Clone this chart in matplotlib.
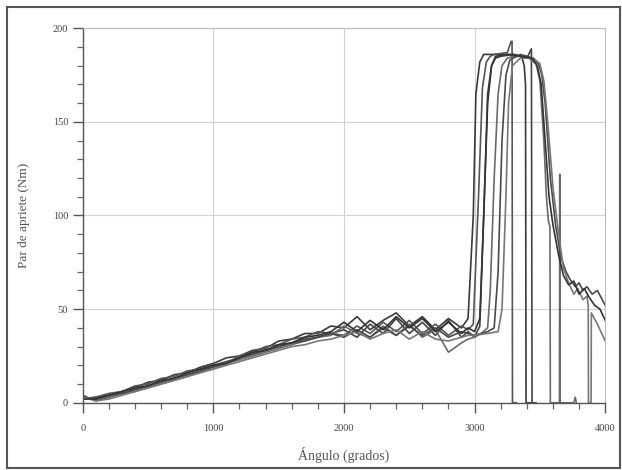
import matplotlib
matplotlib.use("Agg")
import matplotlib.pyplot as plt
from matplotlib.patches import Rectangle
from matplotlib.ticker import MultipleLocator

plt.rcParams['font.family'] = ['Liberation Serif', 'DejaVu Serif']

ramp_angles = [0, 100, 200, 300, 400, 500, 600, 700, 800, 900, 1000, 1100, 1200, 1300, 1400,
               1500, 1600, 1700, 1800, 1900, 2000, 2100, 2200, 2300, 2400, 2500, 2600, 2700, 2800, 2900]

c1_ramp = [3, 2, 4, 6, 8, 11, 12, 15, 16, 19, 21, 24, 25, 28, 29, 33, 34, 37, 37, 41, 40, 46, 39, 44, 48, 41, 46, 39, 45, 40]
c1_end_x = [2950, 2990, 3010, 3040, 3070, 3100, 3200, 3300, 3360, 3380, 3390, 3394, 3430]
c1_end_y = [45, 100, 165, 182, 186, 186, 186, 186, 185, 180, 170, 0, 0]

c2_ramp = [2, 3, 5, 6, 9, 10, 13, 14, 17, 18, 20, 21, 25, 27, 30, 31, 34, 35, 38, 37, 36, 41, 37, 43, 38, 44, 37, 42, 36, 41]
c2_end_x = [2950, 2990, 3030, 3060, 3090, 3120, 3150, 3250, 3280, 3287, 3290, 3320]
c2_end_y = [39, 42, 110, 168, 182, 185, 186, 187, 193, 193, 0, 0]

c3_ramp = [4, 1, 3, 5, 7, 9, 11, 13, 15, 17, 19, 21, 24, 26, 28, 30, 32, 34, 35, 37, 39, 35, 42, 37, 45, 37, 43, 36, 44, 35]
c3_end_x = [2950, 3000, 3040, 3070, 3100, 3130, 3160, 3200, 3300, 3400, 3435, 3440, 3470]
c3_end_y = [38, 35, 41, 100, 165, 180, 184, 185, 186, 184, 189, 0, 0]

c4_ramp = [3, 2, 3, 5, 6, 8, 10, 12, 14, 17, 18, 21, 23, 25, 27, 29, 31, 33, 35, 36, 41, 37, 35, 41, 36, 42, 35, 39, 27, 32]
c4_end_x = [2950, 3000, 3050, 3100, 3120, 3150, 3180, 3210, 3250, 3300, 3400, 3470, 3500, 3530, 3550,
            3565, 3577, 3580, 3640, 3650, 3652, 3655, 3760, 3770, 3780]
c4_end_y = [34, 35, 37, 40, 60, 120, 165, 180, 184, 185, 185, 181, 172, 140, 110,
            97, 94, 0, 0, 0, 122, 0, 0, 3, 0]

c5_ramp = [2, 3, 4, 5, 7, 9, 11, 13, 15, 17, 20, 22, 24, 26, 28, 30, 32, 33, 35, 37, 35, 39, 35, 40, 36, 41, 36, 40, 35, 38]
c5_end_x = [2950, 3000, 3050, 3100, 3150, 3180, 3210, 3240, 3270, 3350, 3450, 3490, 3515, 3540, 3580,
            3620, 3660, 3700, 3730, 3770, 3800, 3830, 3860, 3900, 3940, 4000]
c5_end_y = [37, 36, 37, 38, 40, 70, 140, 175, 183, 186, 184, 181, 175, 160, 120,
            95, 78, 70, 66, 62, 64, 60, 62, 58, 60, 52]

c6_ramp = [3, 1, 2, 4, 6, 8, 10, 12, 14, 16, 18, 20, 22, 24, 26, 28, 30, 31, 33, 34, 36, 38, 34, 37, 39, 34, 38, 34, 33, 35]
c6_end_x = [2950, 3000, 3100, 3180, 3210, 3240, 3260, 3290, 3350, 3450, 3500, 3530, 3560, 3600, 3640,
            3680, 3720, 3760, 3790, 3830, 3860, 3870, 3872, 3892, 3894, 3940, 4000]
c6_end_y = [36, 36, 37, 38, 50, 110, 160, 180, 184, 184, 181, 172, 150, 115, 92,
            72, 64, 58, 61, 55, 57, 52, 0, 0, 48, 42, 33]

c7_ramp = [2, 2, 4, 6, 8, 9, 12, 13, 16, 18, 20, 21, 24, 27, 28, 31, 32, 35, 36, 38, 43, 38, 44, 39, 46, 40, 45, 38, 43, 37]
c7_end_x = [2950, 3000, 3040, 3070, 3100, 3130, 3160, 3250, 3350, 3440, 3480, 3510, 3540, 3570, 3600,
            3640, 3680, 3720, 3760, 3800, 3840, 3880, 3920, 3960, 4000]
c7_end_y = [40, 38, 45, 100, 160, 180, 185, 186, 185, 184, 180, 170, 140, 110, 95,
            80, 68, 63, 65, 58, 61, 56, 52, 50, 44]

series = [
    (c1_ramp, c1_end_x, c1_end_y, '#3a3a3a'),
    (c2_ramp, c2_end_x, c2_end_y, '#555555'),
    (c3_ramp, c3_end_x, c3_end_y, '#444444'),
    (c4_ramp, c4_end_x, c4_end_y, '#6a6a6a'),
    (c5_ramp, c5_end_x, c5_end_y, '#4a4a4a'),
    (c6_ramp, c6_end_x, c6_end_y, '#777777'),
    (c7_ramp, c7_end_x, c7_end_y, '#333333'),
]

x_ticks = [0, 1000, 2000, 3000, 4000]
y_ticks = [0, 50, 100, 150, 200]

fig = plt.figure(figsize=(6.22, 4.70), dpi=100)
ax = fig.add_axes([0.133, 0.143, 0.840, 0.797])

for ramp, ex, ey, col in series:
    ax.plot(ramp_angles + ex, ramp + ey, color=col, lw=1.2, solid_joinstyle='round')

ax.set_xlim(0, 4000)
ax.set_ylim(0, 200)
ax.set_xticks(x_ticks)
ax.set_yticks(y_ticks)
ax.xaxis.set_minor_locator(MultipleLocator(200))
ax.yaxis.set_minor_locator(MultipleLocator(10))
ax.grid(True, which='major', color='#d2d2d2', lw=0.8, ls='-')
ax.set_axisbelow(True)

for side in ['top', 'right']:
    ax.spines[side].set_color('#bbbbbb')
    ax.spines[side].set_linewidth(0.8)
for side in ['left', 'bottom']:
    ax.spines[side].set_color('#555555')
    ax.spines[side].set_linewidth(1.0)

ax.tick_params(which='major', direction='out', length=7, width=1.0, color='#555555',
               labelsize=7.5, labelcolor='#444444')
ax.tick_params(which='minor', direction='out', length=4, width=0.9, color='#666666')
ax.tick_params(axis='x', pad=8)

ax.set_ylabel('Par de apriete (Nm)', fontsize=9.5, color='#555555', labelpad=16)
ax.set_xlabel('Ángulo (grados)', fontsize=10, color='#555555', labelpad=10)

fig.patches.append(Rectangle((0.012, 0.004), 0.985, 0.982, transform=fig.transFigure,
                             fill=False, edgecolor='#555555', lw=1.5))

fig.savefig('out.png', dpi=100)
